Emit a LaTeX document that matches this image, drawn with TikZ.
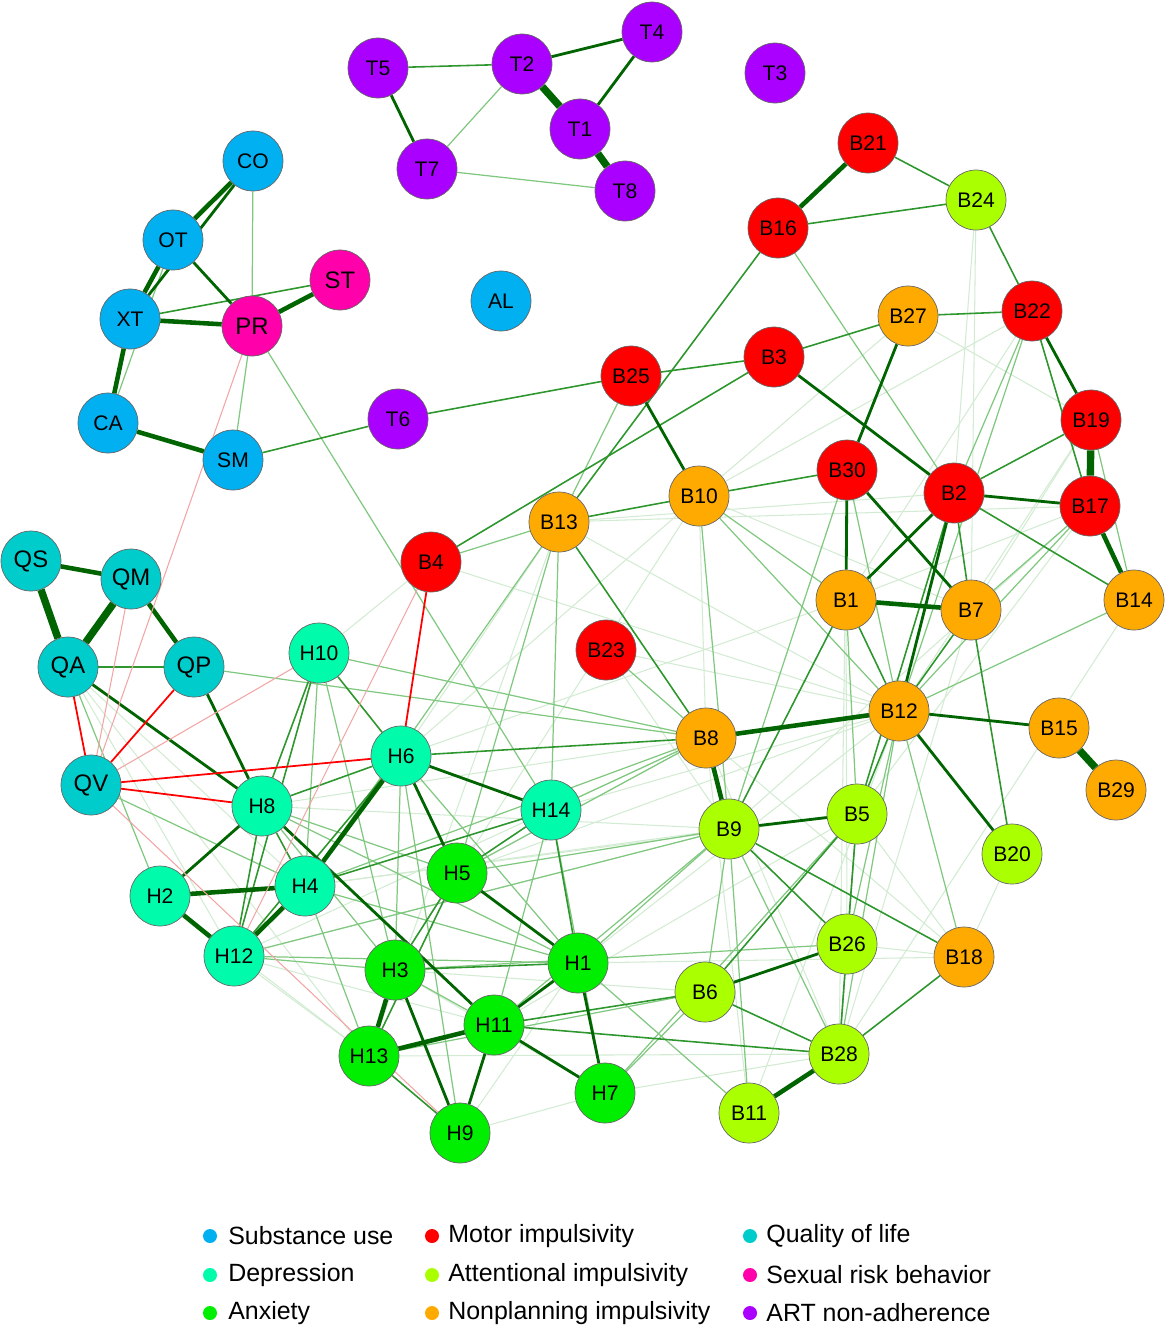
\documentclass[tikz,border=0pt]{standalone}
\usepackage{fontspec}
\setmainfont{Liberation Sans}
\usetikzlibrary{backgrounds}

\definecolor{subst}{RGB}{0,176,240}
\definecolor{motor}{RGB}{255,0,0}
\definecolor{qol}{RGB}{0,204,204}
\definecolor{depr}{RGB}{0,252,170}
\definecolor{atten}{RGB}{170,255,0}
\definecolor{sexrisk}{RGB}{255,0,170}
\definecolor{anx}{RGB}{0,238,0}
\definecolor{nonplan}{RGB}{255,170,0}
\definecolor{art}{RGB}{170,0,255}
\definecolor{posfaint}{RGB}{210,235,210}
\definecolor{poslight}{RGB}{128,200,128}
\definecolor{posmid}{RGB}{45,150,45}
\definecolor{posdark}{RGB}{0,100,0}
\definecolor{neglight}{RGB}{242,165,165}

\begin{document}
\begin{tikzpicture}[x=0.02cm, y=-0.02cm,
    item/.style={circle, draw=black!60, line width=0.4pt, minimum size=1.2cm, inner sep=0pt, font=\fontsize{12}{14}\selectfont},
    bigitem/.style={item, font=\fontsize{13.6}{15}\selectfont},
    ew1/.style={draw=posfaint, line width=0.6pt},
    ew2/.style={draw=poslight, line width=0.7pt},
    ew3/.style={draw=posmid, line width=0.9pt},
    ew4/.style={draw=posdark, line width=1.6pt},
    ew5/.style={draw=posdark, line width=2.6pt},
    ew6/.style={draw=posdark, line width=4.2pt},
    nr1/.style={draw=neglight, line width=0.6pt},
    nr2/.style={draw=red, line width=1pt},
    dot/.style={circle, inner sep=0pt, minimum size=0.28cm},
    leg/.style={anchor=west, inner sep=0pt, font=\fontsize{14.2}{16}\selectfont}]
    \useasboundingbox (0,0) rectangle (1167,1329);

    % ART non-adherence
    \node[item, fill=art] (T5) at (378,68) {T5};
    \node[item, fill=art] (T2) at (522,64) {T2};
    \node[item, fill=art] (T4) at (652,32) {T4};
    \node[item, fill=art] (T1) at (580,129) {T1};
    \node[item, fill=art] (T7) at (427,169) {T7};
    \node[item, fill=art] (T8) at (625,191) {T8};
    \node[item, fill=art] (T3) at (775,73) {T3};
    \node[item, fill=art] (T6) at (398,419) {T6};

    % substance use, sexual risk
    \node[item, fill=subst] (CO) at (253,161) {CO};
    \node[item, fill=subst] (OT) at (173,240) {OT};
    \node[item, fill=subst] (XT) at (130,319) {XT};
    \node[item, fill=subst] (CA) at (108,423) {CA};
    \node[item, fill=subst] (SM) at (233,460) {SM};
    \node[item, fill=subst] (AL) at (501,301) {AL};
    \node[bigitem, fill=sexrisk] (ST) at (340,280) {ST};
    \node[bigitem, fill=sexrisk] (PR) at (252,326) {PR};

    % motor impulsivity
    \node[item, fill=motor] (B21) at (868,143) {B21};
    \node[item, fill=motor] (B16) at (778,228) {B16};
    \node[item, fill=motor] (B22) at (1032,311) {B22};
    \node[item, fill=motor] (B3) at (774,357) {B3};
    \node[item, fill=motor] (B25) at (631,376) {B25};
    \node[item, fill=motor] (B19) at (1091,420) {B19};
    \node[item, fill=motor] (B30) at (847,470) {B30};
    \node[item, fill=motor] (B2) at (954,493) {B2};
    \node[item, fill=motor] (B17) at (1090,506) {B17};
    \node[item, fill=motor] (B4) at (431,562) {B4};
    \node[item, fill=motor] (B23) at (606,650) {B23};

    % attentional impulsivity
    \node[item, fill=atten] (B24) at (976,200) {B24};
    \node[item, fill=atten] (B9) at (729,829) {B9};
    \node[item, fill=atten] (B5) at (857,814) {B5};
    \node[item, fill=atten] (B20) at (1012,854) {B20};
    \node[item, fill=atten] (B26) at (847,944) {B26};
    \node[item, fill=atten] (B6) at (705,992) {B6};
    \node[item, fill=atten] (B28) at (839,1054) {B28};
    \node[item, fill=atten] (B11) at (749,1113) {B11};

    % nonplanning impulsivity
    \node[item, fill=nonplan] (B27) at (908,316) {B27};
    \node[item, fill=nonplan] (B10) at (699,496) {B10};
    \node[item, fill=nonplan] (B13) at (559,522) {B13};
    \node[item, fill=nonplan] (B1) at (846,600) {B1};
    \node[item, fill=nonplan] (B7) at (971,610) {B7};
    \node[item, fill=nonplan] (B14) at (1134,600) {B14};
    \node[item, fill=nonplan] (B12) at (899,711) {B12};
    \node[item, fill=nonplan] (B8) at (706,738) {B8};
    \node[item, fill=nonplan] (B15) at (1059,728) {B15};
    \node[item, fill=nonplan] (B29) at (1116,790) {B29};
    \node[item, fill=nonplan] (B18) at (964,957) {B18};

    % quality of life
    \node[bigitem, fill=qol] (QS) at (31,561) {QS};
    \node[bigitem, fill=qol] (QM) at (131,579) {QM};
    \node[bigitem, fill=qol] (QA) at (68,667) {QA};
    \node[bigitem, fill=qol] (QP) at (194,667) {QP};
    \node[bigitem, fill=qol] (QV) at (91,785) {QV};

    % depression
    \node[item, fill=depr] (H10) at (319,653) {H10};
    \node[item, fill=depr] (H6) at (401,756) {H6};
    \node[item, fill=depr] (H8) at (262,806) {H8};
    \node[item, fill=depr] (H14) at (551,810) {H14};
    \node[item, fill=depr] (H4) at (305,886) {H4};
    \node[item, fill=depr] (H2) at (160,896) {H2};
    \node[item, fill=depr] (H12) at (234,956) {H12};

    % anxiety
    \node[item, fill=anx] (H5) at (457,873) {H5};
    \node[item, fill=anx] (H3) at (395,970) {H3};
    \node[item, fill=anx] (H1) at (578,963) {H1};
    \node[item, fill=anx] (H11) at (494,1025) {H11};
    \node[item, fill=anx] (H13) at (369,1056) {H13};
    \node[item, fill=anx] (H7) at (605,1093) {H7};
    \node[item, fill=anx] (H9) at (460,1133) {H9};

    \begin{scope}[on background layer]
    % faint
    \draw[ew1]
        (B24) edge (B2) (B24) edge (B7) (B27) edge (B10) (B27) edge (B19)
        (B22) edge (B10) (B22) edge (B1) (B19) edge (B12) (B19) edge (B7)
        (B17) edge (B13) (B17) edge (B1) (B17) edge (B5) (B17) edge (B9)
        (B2) edge (B13) (B10) edge (B8) (B10) edge (B7) (B13) edge (B12)
        (B23) edge (B12) (H6) edge (B10) (H6) edge (B13) (B4) edge (B12)
        (H6) edge (B1) (H8) edge (B8) (H8) edge (B9) (H4) edge (B5)
        (H4) edge (B9) (H12) edge (B8) (H12) edge (B9) (H12) edge (H11)
        (H12) edge (H13) (H2) edge (H13) (QA) edge (H12) (QA) edge (H4)
        (QA) edge (H13) (H13) edge (B28) (H9) edge (H1) (H7) edge (B28)
        (H3) edge (B6) (H11) edge (B5) (H1) edge (B12) (H14) edge (B12)
        (B5) edge (B18) (B20) edge (B18) (B18) edge (B26) (B14) edge (B28)
        (B7) edge (B28) (B30) edge (B28) (B12) edge (B11) (B1) edge (B26)
        (B8) edge (B28) (B8) edge (B18) (B8) edge (B11) (B23) edge (B9)
        (H5) edge (B12) (H5) edge (B8) (B13) edge (H13) (H10) edge (B4)
        (H9) edge (H7) (H3) edge (H7) (H1) edge (B18) (B10) edge (H3)
        ;
    % light
    \draw[ew2]
        (CO) edge (PR) (PR) edge (SM) (OT) edge (CA) (T2) edge (T7) (T7) edge (T8)
        (B16) edge (B2) (PR) edge (H14) (QP) edge (B8) (H10) edge (B8)
        (B13) edge (H14) (B13) edge (H5) (B10) edge (B12) (B10) edge (B9)
        (B13) edge (H4) (B8) edge (H14) (B8) edge (H5) (B8) edge (H4)
        (B9) edge (H5) (B9) edge (H12) (B9) edge (H1) (B9) edge (B28)
        (H7) edge (B5) (H7) edge (B6) (B11) edge (H1) (B11) edge (B9)
        (B5) edge (B28) (B26) edge (H3) (B6) edge (H13) (H11) edge (B9)
        (H11) edge (H3) (H4) edge (H13) (H4) edge (H1) (H8) edge (H3)
        (H8) edge (H5) (H8) edge (H1) (H12) edge (H1) (H12) edge (H3)
        (QA) edge (H2) (QV) edge (H4) (H6) edge (H3) (H6) edge (H9)
        (H6) edge (H1) (H10) edge (H3) (H10) edge (H4) (H14) edge (H7)
        (H14) edge (H11) (B1) edge (B5) (B30) edge (B9) (B30) edge (B12)
        (B12) edge (B26) (B12) edge (B28) (B12) edge (B18) (B22) edge (B12)
        (B17) edge (B7) (B17) edge (B12) (B14) edge (B12) (B19) edge (B14)
        (B22) edge (B2) (B23) edge (B8) (B10) edge (B1) (B9) edge (B6)
        (B25) edge (B13) (B4) edge (B13)
        ;
    % medium
    \draw[ew3]
        (T5) edge (T2) (B21) edge (B24) (B16) edge (B24) (B24) edge (B22)
        (B27) edge (B3) (B27) edge (B22) (B3) edge (B25) (B25) edge (T6)
        (SM) edge (T6) (B16) edge (B13) (B19) edge (B2) (B2) edge (B14)
        (B30) edge (B10) (B13) edge (B10) (B13) edge (B8) (B3) edge (B4)
        (B12) edge (B1) (B12) edge (B7) (B12) edge (B5)
        (B1) edge (B9) (B7) edge (B20) (B9) edge (B18) (B9) edge (B26)
        (B5) edge (B26) (B5) edge (B6) (B6) edge (B28) (B6) edge (H11)
        (B28) edge (H11) (B28) edge (B18) (B26) edge (B28) (H6) edge (H8)
        (H6) edge (H12) (H6) edge (H10) (H10) edge (H8) (H10) edge (H12)
        (H8) edge (H4) (H8) edge (H12) (H3) edge (H1) (H5) edge (H3)
        (H5) edge (H13) (H1) edge (H14) (H14) edge (H4) (H13) edge (H9)
        (H6) edge (B8) (QA) edge (QP) (XT) edge (ST) (B22) edge (B17)
        (B2) edge (B7) (B2) edge (B5) (H14) edge (H5)
        ;
    % dark
    \draw[ew4]
        (OT) edge (PR) (B3) edge (B2) (B25) edge (B10) (B12) edge (B15)
        (B12) edge (B20) (B9) edge (B5) (H11) edge (H1) (H11) edge (H7)
        (H8) edge (H2) (H8) edge (H11) (B30) edge (B1) (B27) edge (B30)
        (B22) edge (B19) (B2) edge (B17) (B30) edge (B7) (B2) edge (B1)
        (H6) edge (H14) (H6) edge (H5) (QA) edge (H8) (QP) edge (H8)
        (T2) edge (T4) (T4) edge (T1) (T5) edge (T7) (H1) edge (H7)
        (H3) edge (H9) (H11) edge (H9) (H5) edge (H1) (B26) edge (B6)
        (B2) edge (B12) (CO) edge (XT)
        ;
    % thick
    \draw[ew5]
        (PR) edge (ST) (H2) edge (H4) (H3) edge (H13) (B1) edge (B7)
        (B8) edge (B9) (B28) edge (B11) (OT) edge (XT) (XT) edge (CA)
        (XT) edge (PR) (CA) edge (SM) (CO) edge (OT) (QM) edge (QP)
        (H6) edge (H4) (H12) edge (H4) (H2) edge (H12) (H13) edge (H11)
        (B12) edge (B8) (B21) edge (B16) (B17) edge (B14) (QS) edge (QM)
        ;
    \draw[ew6]
        (T2) edge (T1) (T1) edge (T8) (B19) edge (B17) (B15) edge (B29)
        (QS) edge (QA) (QM) edge (QA)
        ;
    % negative
    \draw[nr1]
        (PR) edge (QV) (QM) edge (QV) (H10) edge (QV) (QV) edge (H9)
        (B4) edge (H12)
        ;
    \draw[nr2]
        (QA) edge (QV) (B4) edge (H6) (QP) edge (QV) (QV) edge (H6)
        (QV) edge (H8)
        ;
    \end{scope}

    % legend
    \node[dot, fill=subst] (dsu) at (210,1236) {};
    \node[leg] (lsu) at (228,1236) {Substance use};
    \node[dot, fill=depr] (dde) at (210,1275) {};
    \node[leg] (lde) at (228,1275) {Depression};
    \node[dot, fill=anx] (dan) at (210,1313) {};
    \node[leg] (lan) at (228,1313) {Anxiety};
    \node[dot, fill=motor] (dmo) at (432,1236) {};
    \node[leg] (lmo) at (448,1236) {Motor impulsivity};
    \node[dot, fill=atten] (dat) at (432,1275) {};
    \node[leg] (lat) at (448,1275) {Attentional impulsivity};
    \node[dot, fill=nonplan] (dnp) at (432,1313) {};
    \node[leg] (lnp) at (448,1313) {Nonplanning impulsivity};
    \node[dot, fill=qol] (dql) at (750,1236) {};
    \node[leg] (lql) at (766,1236) {Quality of life};
    \node[dot, fill=sexrisk] (dsr) at (750,1275) {};
    \node[leg] (lsr) at (766,1275) {Sexual risk behavior};
    \node[dot, fill=art] (dar) at (750,1313) {};
    \node[leg] (lar) at (766,1313) {ART non-adherence};
\end{tikzpicture}
\end{document}
